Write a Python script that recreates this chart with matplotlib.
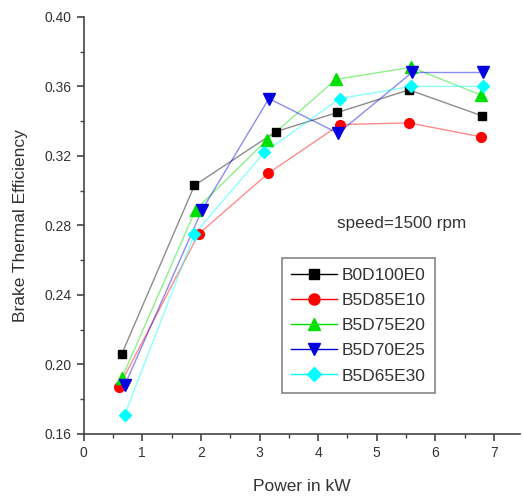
import matplotlib
matplotlib.use("Agg")
import matplotlib.pyplot as plt
from matplotlib.ticker import MultipleLocator, FormatStrFormatter

plt.rcParams['font.family'] = ['Liberation Sans', 'DejaVu Sans']

# === Dados ===
series_names = ['B0D100E0', 'B5D85E10', 'B5D75E20', 'B5D70E25', 'B5D65E30']

power_b0d100e0 = [0.65, 1.89, 3.28, 4.33, 5.55, 6.80]
bte_b0d100e0 = [0.206, 0.303, 0.334, 0.345, 0.358, 0.343]

power_b5d85e10 = [0.60, 1.96, 3.15, 4.37, 5.55, 6.77]
bte_b5d85e10 = [0.187, 0.275, 0.310, 0.338, 0.339, 0.331]

power_b5d75e20 = [0.65, 1.91, 3.12, 4.30, 5.59, 6.78]
bte_b5d75e20 = [0.192, 0.289, 0.329, 0.364, 0.371, 0.355]

power_b5d70e25 = [0.70, 2.02, 3.16, 4.34, 5.60, 6.81]
bte_b5d70e25 = [0.188, 0.289, 0.353, 0.333, 0.368, 0.368]

power_b5d65e30 = [0.70, 1.89, 3.08, 4.37, 5.59, 6.81]
bte_b5d65e30 = [0.171, 0.275, 0.322, 0.353, 0.360, 0.360]

powers = [power_b0d100e0, power_b5d85e10, power_b5d75e20, power_b5d70e25, power_b5d65e30]
btes = [bte_b0d100e0, bte_b5d85e10, bte_b5d75e20, bte_b5d70e25, bte_b5d65e30]

colors = ['black', 'red', '#00e000', '#0000e0', 'cyan']
markers = ['s', 'o', '^', 'v', 'D']
msizes = [6, 7, 8, 8, 6]

# === Figura ===
fig = plt.figure(figsize=(5.23, 4.97), dpi=100)
ax = fig.add_axes([0.160, 0.127, 0.835, 0.839])

for name, x, y, c, m, ms in zip(series_names, powers, btes, colors, markers, msizes):
    ax.plot(x, y, color=c, alpha=0.45, linewidth=1.0, zorder=2)
    ax.plot(x, y, linestyle='none', marker=m, markersize=ms, color=c,
            markeredgecolor=c, zorder=3)
    # entrada da legenda (linha + marcador)
    ax.plot([], [], color=c, marker=m, markersize=ms + 1, linewidth=1.0,
            label=name)

ax.set_xlim(0, 7.45)
ax.set_ylim(0.16, 0.40)
ax.xaxis.set_major_locator(MultipleLocator(1))
ax.xaxis.set_minor_locator(MultipleLocator(0.5))
ax.yaxis.set_major_locator(MultipleLocator(0.04))
ax.yaxis.set_minor_locator(MultipleLocator(0.02))
ax.yaxis.set_major_formatter(FormatStrFormatter('%.2f'))

for s in ['top', 'right']:
    ax.spines[s].set_visible(False)
for s in ['left', 'bottom']:
    ax.spines[s].set_color('#444444')
    ax.spines[s].set_linewidth(1.2)

ax.tick_params(which='major', direction='out', length=5, width=1.2,
               colors='#444444', labelsize=10, labelcolor='#333333')
ax.tick_params(which='minor', direction='out', length=3, width=1.0,
               colors='#444444')

ax.set_xlabel('Power in kW', fontsize=12.5, color='#333333', labelpad=14)
ax.set_ylabel('Brake Thermal Efficiency', fontsize=12.5, color='#333333',
              labelpad=12)

ax.text(4.32, 0.281, 'speed=1500 rpm', fontsize=12.3, color='#333333',
        va='center', ha='left')

leg = ax.legend(loc='upper left', bbox_to_anchor=(0.454, 0.422),
                fontsize=12.5, frameon=True, fancybox=False,
                handlelength=2.6, handletextpad=0.3, labelspacing=0.58,
                borderpad=0.55, borderaxespad=0)
leg.get_frame().set_edgecolor('#666666')
leg.get_frame().set_linewidth(1.2)
for t in leg.get_texts():
    t.set_color('#333333')
for h in leg.get_lines():
    h.set_alpha(1.0)

fig.savefig('out.png', dpi=100)
